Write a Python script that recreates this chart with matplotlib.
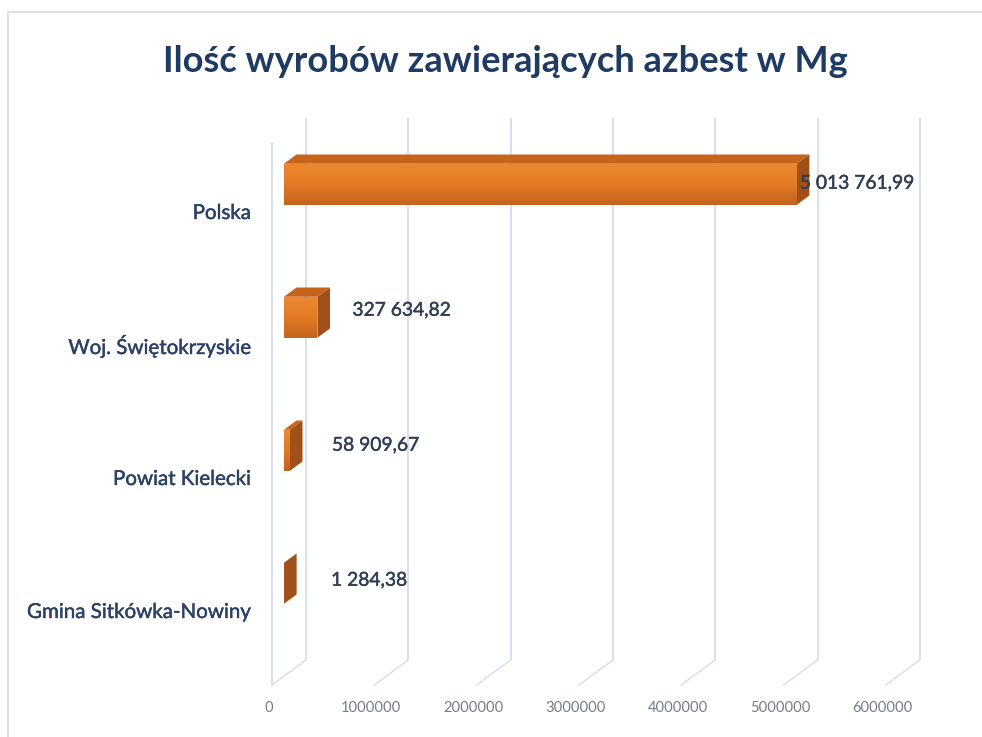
import matplotlib
matplotlib.use('Agg')
import matplotlib.pyplot as plt
import matplotlib.patheffects as pe
import numpy as np
from matplotlib.patches import Polygon, Rectangle
from matplotlib.colors import to_rgb

# ---------------- data ----------------
title = "Ilość wyrobów zawierających azbest w Mg"
categories = ["Polska", "Woj. Świętokrzyskie", "Powiat Kielecki", "Gmina Sitkówka-Nowiny"]
values = [5013761.99, 327634.82, 58909.67, 1284.38]
value_labels = ["5 013 761,99", "327 634,82", "58 909,67", "1 284,38"]
x_ticks = [0, 1000000, 2000000, 3000000, 4000000, 5000000, 6000000]
x_tick_labels = ["0", "1000000", "2000000", "3000000", "4000000", "5000000", "6000000"]

# ---------------- layout ----------------
W, H = 982, 737
FONT = 'Lato'

fig = plt.figure(figsize=(W / 100, H / 100), dpi=100)
fig.patch.set_facecolor('white')
ax = fig.add_axes([0, 0, 1, 1])
PX = 102.3 / 1e6          # pixels per value unit
X0 = 272                  # pixel of value 0 at the front of the floor
ROW0, ROWH = 193, 133     # pixel of first category row (front plane), row spacing
ax.set_xlim(-X0 / PX, (W - X0) / PX)
ax.set_ylim((H - ROW0) / ROWH, -ROW0 / ROWH)
ax.axis('off')


def dxp(px):
    return px / PX


def dyp(px):
    return px / ROWH


DEPX, DEPY = dxp(34), dyp(-25)


def P(v, y, d):
    return (v + d * DEPX, y + d * DEPY)


# chart border
fig.patches.append(Rectangle((8 / W, -0.1), 1.2, 1 - 12 / H + 0.1, transform=fig.transFigure,
                             fill=False, edgecolor='#D9D9D9', lw=1.2))

grid_c = '#D8E0EA'
y_floor = dyp(685 - ROW0)
y_top = dyp(143 - ROW0)

# back wall gridlines + floor diagonals
for t in x_ticks:
    a, b = P(t, y_top, 1), P(t, y_floor, 1)
    ax.plot([a[0], b[0]], [a[1], b[1]], color=grid_c, lw=1.4, zorder=1, solid_capstyle='butt')
    c = P(t, y_floor, 0)
    ax.plot([b[0], c[0]], [b[1], c[1]], color=grid_c, lw=1.1, zorder=1)
# left side wall front edge
a, b = P(0, y_top, 0), P(0, y_floor, 0)
ax.plot([a[0], b[0]], [a[1], b[1]], color=grid_c, lw=1.4, zorder=1)

# bars
d0, d1 = 0.35, 0.72
hh = dyp(20.5)
top_c = '#C6641C'
side_c = '#A0511A'
grad_top = np.array(to_rgb('#EC8830'))
grad_mid = np.array(to_rgb('#E27A24'))
grad_bot = np.array(to_rgb('#C4631D'))
tt = np.linspace(0, 1, 64)[:, None]
grad = np.where(tt < 0.5, grad_top + (grad_mid - grad_top) * (tt / 0.5),
                grad_mid + (grad_bot - grad_mid) * ((tt - 0.5) / 0.5))
grad = grad[:, None, :]

for i, v in enumerate(values):
    yc = i
    top = [P(0, yc - hh, d0), P(v, yc - hh, d0), P(v, yc - hh, d1), P(0, yc - hh, d1)]
    side = [P(v, yc - hh, d0), P(v, yc + hh, d0), P(v, yc + hh, d1), P(v, yc - hh, d1)]
    front = [P(0, yc - hh, d0), P(v, yc - hh, d0), P(v, yc + hh, d0), P(0, yc + hh, d0)]
    ax.add_patch(Polygon(top, closed=True, facecolor=top_c, edgecolor='none', zorder=3))
    ax.add_patch(Polygon(side, closed=True, facecolor=side_c, edgecolor='none', zorder=3))
    fp = Polygon(front, closed=True, facecolor='#E27A24', edgecolor='none', zorder=4)
    ax.add_patch(fp)
    fx0, fy0 = front[0]
    fx1, fy1 = front[2]
    im = ax.imshow(grad, extent=(fx0, fx1, fy1, fy0), origin='upper', aspect='auto',
                   zorder=4.5, interpolation='bilinear')
    im.set_clip_path(fp)

ax.set_xlim(-X0 / PX, (W - X0) / PX)
ax.set_ylim((H - ROW0) / ROWH, -ROW0 / ROWH)

# ---------------- texts ----------------
renderer = fig.canvas.get_renderer()


def fit(txt, target_px):
    w = txt.get_window_extent(renderer).width
    txt.set_fontsize(txt.get_fontsize() * target_px / w)


t = ax.text(dxp(505.5 - X0), dyp(72 - ROW0), title, ha='center', va='baseline',
            fontsize=26, fontweight='bold', color='#1F3B63', family=FONT)
fit(t, 685)

cat_c = '#2B4166'
cts = []
for i, lab in enumerate(categories):
    tx = ax.text(dxp(251 - X0), i + dyp(20), lab, ha='right', va='center',
                 fontsize=12, color=cat_c, family=FONT)
    tx.set_path_effects([pe.withStroke(linewidth=0.3, foreground=cat_c)])
    cts.append(tx)
fit(cts[3], 223)
for tx in cts:
    tx.set_fontsize(cts[3].get_fontsize())

val_c = '#303F55'
val_dx = [3, 35, 42, 47]
val_dy = [-1, -7, -5, -3]
vts = []
for i, (v, lab) in enumerate(zip(values, value_labels)):
    fx = P(v, 0, d0)[0]
    yface = i + d0 * DEPY
    vt = ax.text(fx + dxp(val_dx[i]), yface + dyp(val_dy[i]), lab, ha='left', va='center',
                 fontsize=12, color=val_c, family=FONT)
    vt.set_path_effects([pe.withStroke(linewidth=0.3, foreground=val_c)])
    vts.append(vt)
fit(vts[1], 98)
for vt in vts:
    vt.set_fontsize(vts[1].get_fontsize())

tks = []
tick_c = '#737D8A'
for t_, lab in zip(x_ticks, x_tick_labels):
    tk = ax.text(t_ + dxp(-3), dyp(708 - ROW0), lab, ha='center', va='center',
                 fontsize=11, color=tick_c, family=FONT)
    tks.append(tk)
fit(tks[1], 60)
for tk in tks:
    tk.set_fontsize(tks[1].get_fontsize())

fig.savefig('out.png', dpi=100, facecolor='white')
